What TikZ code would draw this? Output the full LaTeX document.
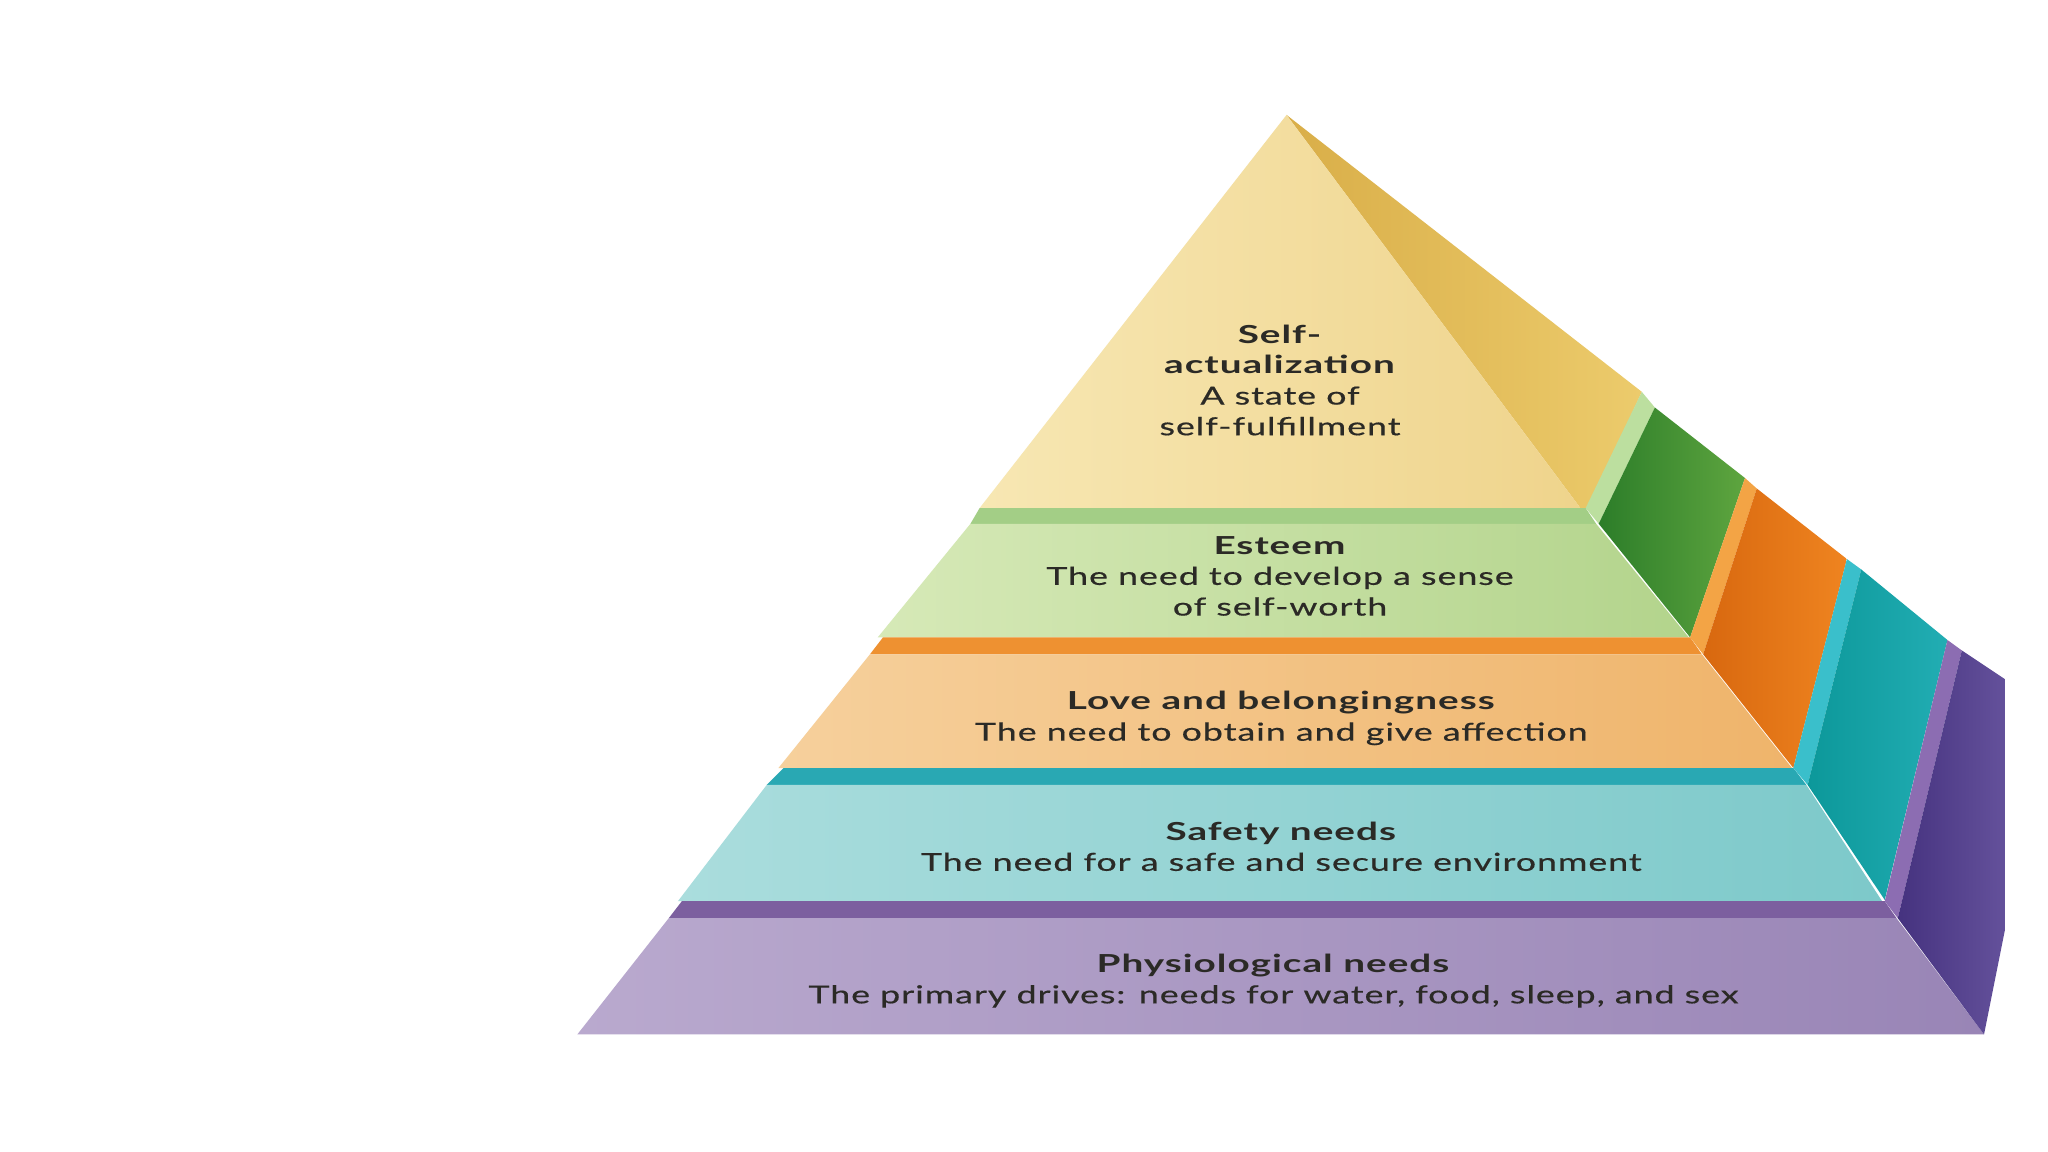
\documentclass[tikz,border=0pt]{standalone}
\usepackage{fontspec}
\setmainfont{Lato}[LetterSpace=4, FakeStretch=1.44, FakeBold=0.5,
  BoldFeatures={FakeStretch=1.56, FakeBold=0}]
\definecolor{txt}{HTML}{2B2A26}
\definecolor{yelA}{HTML}{F7E7B3}
\definecolor{yelB}{HTML}{EFD48C}
\definecolor{yelSA}{HTML}{D9AE48}
\definecolor{yelSB}{HTML}{ECCB6C}
\definecolor{grnL}{HTML}{A3CE86}
\definecolor{grnLS}{HTML}{BCDF9F}
\definecolor{grnA}{HTML}{D6E9B7}
\definecolor{grnB}{HTML}{B3D48C}
\definecolor{grnSA}{HTML}{2C7D29}
\definecolor{grnSB}{HTML}{5EA53F}
\definecolor{orgL}{HTML}{EE9131}
\definecolor{orgLS}{HTML}{F3A445}
\definecolor{orgA}{HTML}{F6D09C}
\definecolor{orgB}{HTML}{EFB46B}
\definecolor{orgSA}{HTML}{D8680F}
\definecolor{orgSB}{HTML}{EF8420}
\definecolor{teaL}{HTML}{29A8B3}
\definecolor{teaLS}{HTML}{3ABFCB}
\definecolor{teaA}{HTML}{AADDDD}
\definecolor{teaB}{HTML}{7DC9CA}
\definecolor{teaSA}{HTML}{0C989A}
\definecolor{teaSB}{HTML}{22ADB3}
\definecolor{purL}{HTML}{7C5F9F}
\definecolor{purLS}{HTML}{8C6DB2}
\definecolor{purA}{HTML}{B9A9CE}
\definecolor{purB}{HTML}{9985B6}
\definecolor{purSA}{HTML}{45327F}
\definecolor{purSB}{HTML}{64519B}
\begin{document}
\begin{tikzpicture}[x=1pt,y=-1pt,
  lbl/.style={align=center, text=txt, inner sep=0pt,
    font=\fontsize{19}{23.5}\selectfont}]
\fill[white] (0,0) rectangle (1568,882);
\useasboundingbox (0,0) rectangle (1568,882);

% ---- Tier 1: self-actualization (yellow)
\shade[left color=yelSA, right color=yelSB]
  (985,88) -- (1257,300) -- (1216,389) -- (1210,389) -- cycle;
\shade[left color=yelA, right color=yelB]
  (985,88) -- (1210,389) -- (750,389) -- cycle;

% ---- Tier 2: esteem (green)
\fill[grnL] (750,389) -- (1214,389) -- (1222,401) -- (743,401) -- cycle;
\fill[grnLS] (1257,300) -- (1267,312) -- (1224,401) -- (1214,389) -- cycle;
\shade[left color=grnA, right color=grnB]
  (743,401) -- (1222,401) -- (1293,488) -- (672,488) -- cycle;
\shade[left color=grnSA, right color=grnSB]
  (1224,401) -- (1267,312) -- (1336,366) -- (1294,488) -- cycle;

% ---- Tier 3: love (orange)
\fill[orgL] (676,488) -- (1294,488) -- (1303,501) -- (666,501) -- cycle;
\fill[orgLS] (1336,366) -- (1345,374) -- (1304,501) -- (1294,488) -- cycle;
\shade[left color=orgA, right color=orgB]
  (666,501) -- (1303,501) -- (1372,588) -- (596,588) -- cycle;
\shade[left color=orgSA, right color=orgSB]
  (1304,501) -- (1345,374) -- (1414,428) -- (1373,588) -- cycle;

% ---- Tier 4: safety (teal)
\fill[teaL] (600,588) -- (1373,588) -- (1383,601) -- (587,601) -- cycle;
\fill[teaLS] (1414,428) -- (1425,436) -- (1384,601) -- (1373,588) -- cycle;
\shade[left color=teaA, right color=teaB]
  (587,601) -- (1383,601) -- (1441,690) -- (519,690) -- cycle;
\shade[left color=teaSA, right color=teaSB]
  (1384,601) -- (1425,436) -- (1491,490) -- (1443,689) -- cycle;

% ---- Tier 5: physiological (purple)
\fill[purL] (522,690) -- (1443,690) -- (1452,703) -- (512,703) -- cycle;
\fill[purLS] (1491,490) -- (1502,498) -- (1453,703) -- (1443,690) -- cycle;
\shade[left color=purA, right color=purB]
  (512,703) -- (1452,703) -- (1519,792) -- (442,792) -- cycle;
\shade[left color=purSA, right color=purSB]
  (1453,703) -- (1502,498) -- (1535,520) -- (1535,712) -- (1519,792) -- cycle;

% ---- Labels
\node[lbl] (t1) at (980,291) {\textbf{Self-}\\\textbf{actualization}\\A state of\\self-fulfillment};
\node[lbl] (t2) at (980,441) {\textbf{Esteem}\\The need to develop a sense\\of self-worth};
\node[lbl] (t3) at (981,550) {\textbf{Love and belongingness}\\The need to obtain and give affection};
\node[lbl] (t4) at (981,648) {\textbf{Safety needs}\\The need for a safe and secure environment};
\node[lbl] (t5) at (975,751) {\textbf{Physiological needs}\\The primary drives: needs for water, food, sleep, and sex};
\end{tikzpicture}
\end{document}
